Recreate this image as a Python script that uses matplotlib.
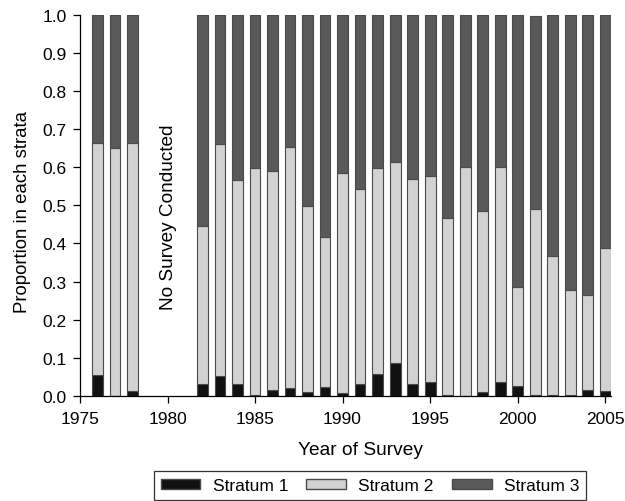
import matplotlib
matplotlib.use("Agg")
import matplotlib.pyplot as plt
from matplotlib.patches import Patch

plt.rcParams['font.family'] = ['Liberation Sans', 'DejaVu Sans']

# survey years (no survey 1979-1981)
years = [1976, 1977, 1978,
         1982, 1983, 1984, 1985, 1986, 1987, 1988, 1989, 1990,
         1991, 1992, 1993, 1994, 1995, 1996, 1997, 1998, 1999,
         2000, 2001, 2002, 2003, 2004, 2005]

stratum1 = [0.054, 0.000, 0.014,
            0.031, 0.052, 0.031, 0.003, 0.017, 0.020, 0.012, 0.025, 0.009,
            0.031, 0.059, 0.087, 0.032, 0.038, 0.002, 0.000, 0.012, 0.038,
            0.027, 0.003, 0.003, 0.003, 0.017, 0.014]

stratum2 = [0.610, 0.649, 0.650,
            0.414, 0.609, 0.535, 0.595, 0.572, 0.634, 0.487, 0.391, 0.577,
            0.513, 0.538, 0.527, 0.537, 0.540, 0.464, 0.600, 0.474, 0.563,
            0.258, 0.488, 0.363, 0.276, 0.247, 0.374]

stratum3 = [0.336, 0.351, 0.336,
            0.555, 0.339, 0.434, 0.402, 0.411, 0.346, 0.501, 0.584, 0.414,
            0.456, 0.403, 0.386, 0.431, 0.422, 0.534, 0.400, 0.514, 0.399,
            0.715, 0.506, 0.634, 0.721, 0.736, 0.612]

year_ticks = [1975, 1980, 1985, 1990, 1995, 2000, 2005]
prop_ticks = [0.0, 0.1, 0.2, 0.3, 0.4, 0.5, 0.6, 0.7, 0.8, 0.9, 1.0]

c1, c2, c3 = '#111111', '#d2d2d2', '#595959'
edge = '#4a4a4a'

fig = plt.figure(figsize=(6.25, 5.02), dpi=100)
ax = fig.add_axes([0.128, 0.209, 0.85, 0.760])

w = 0.62
bottom2 = [a for a in stratum1]
bottom3 = [a + b for a, b in zip(stratum1, stratum2)]
ax.bar(years, stratum1, width=w, color=c1, edgecolor=edge, linewidth=0.8)
ax.bar(years, stratum2, width=w, bottom=bottom2, color=c2, edgecolor=edge, linewidth=0.8)
ax.bar(years, stratum3, width=w, bottom=bottom3, color=c3, edgecolor=edge, linewidth=0.8)

ax.text(1980.05, 0.472, 'No Survey Conducted', rotation=90,
        ha='center', va='center', fontsize=13.7)

ax.set_xlim(1975, 2005.35)
ax.set_ylim(0, 1.0)
ax.set_xticks(year_ticks)
ax.set_yticks(prop_ticks)
ax.set_yticklabels(['%.1f' % t for t in prop_ticks])
ax.tick_params(labelsize=12.5, direction='out', length=5, width=0.9, pad=4.5)
ax.tick_params(axis='x', pad=5.5)
ax.spines['top'].set_visible(False)
ax.spines['right'].set_visible(False)
ax.spines['left'].set_linewidth(0.9)
ax.spines['bottom'].set_linewidth(0.9)

ax.set_xlabel('Year of Survey', fontsize=13.8, labelpad=11)
ax.set_ylabel('Proportion in each strata', fontsize=13.4, labelpad=8.5)
ax.xaxis.label.set_x(0.528)
ax.yaxis.label.set_y(0.486)

handles = [Patch(facecolor=c1, edgecolor=edge, label='Stratum 1'),
           Patch(facecolor=c2, edgecolor=edge, label='Stratum 2'),
           Patch(facecolor=c3, edgecolor=edge, label='Stratum 3')]
leg = fig.legend(handles=handles, loc='center', ncol=3,
                 bbox_to_anchor=(0.592, 0.030), fontsize=12.5,
                 frameon=True, fancybox=False, edgecolor='black',
                 handlelength=2.3, handleheight=0.5, handletextpad=0.7,
                 columnspacing=1.05, borderpad=0.4)
leg.get_frame().set_linewidth(0.9)

fig.savefig('out.png', dpi=100)
